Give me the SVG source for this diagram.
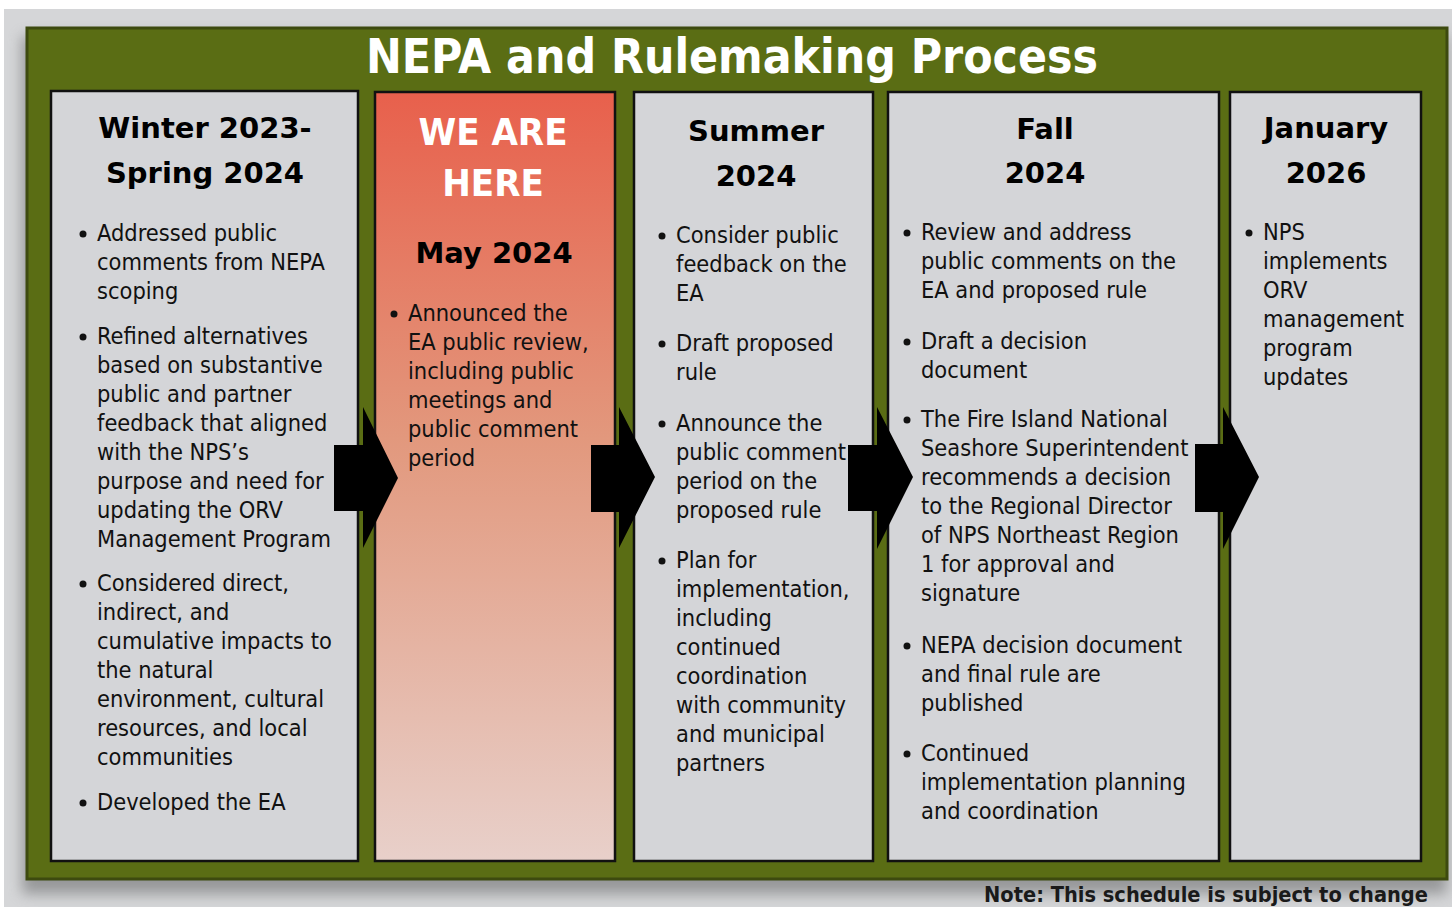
<svg xmlns="http://www.w3.org/2000/svg" width="1452" height="907" viewBox="0 0 1452 907">
<style>
.col{fill:#d4d5d8;stroke:#111;stroke-width:2.5}
.hd{font-family:"DejaVu Sans",Verdana,sans-serif;font-weight:bold;font-size:29px;fill:#000;text-anchor:middle}
.bd{font-family:"DejaVu Sans Condensed","DejaVu Sans",sans-serif;font-stretch:condensed;font-size:23.4px;fill:#111}
.bl{fill:#111}
.arrow{fill:#000}
</style>
<defs>
<linearGradient id="redg" x1="0" y1="0" x2="0" y2="1">
<stop offset="0" stop-color="#e8604c"/>
<stop offset="0.45" stop-color="#e2987d"/>
<stop offset="1" stop-color="#e8d0ca"/>
</linearGradient>
<filter id="sh" x="-5%" y="-5%" width="110%" height="115%">
<feGaussianBlur stdDeviation="7"/>
</filter>
</defs>
<rect x="0" y="0" width="1452" height="907" fill="#ffffff"/>
<rect x="4" y="9" width="1448" height="898" fill="#d5d6d8"/>
<rect x="22" y="36" width="1425" height="858" fill="#6d6e70" opacity="0.6" filter="url(#sh)"/>
<g id="frame">
<rect x="27" y="28" width="1420" height="851" fill="#5a6d14" stroke="#3d4a0f" stroke-width="3"/>
<text x="732" y="73" font-family="'DejaVu Sans Condensed','DejaVu Sans',sans-serif" font-stretch="condensed" font-weight="bold" font-size="47.5" fill="#fff" text-anchor="middle" textLength="732" lengthAdjust="spacingAndGlyphs">NEPA and Rulemaking Process</text>
</g>
<g id="col1">
<rect class="col" x="51" y="91" width="307" height="770"/>
<text class="hd" x="205" y="138">Winter 2023-</text>
<text class="hd" x="205" y="183">Spring 2024</text>
<circle class="bl" cx="83" cy="234" r="3.5"/>
<text class="bd" x="97" y="241">Addressed public</text>
<text class="bd" x="97" y="270">comments from NEPA</text>
<text class="bd" x="97" y="299">scoping</text>
<circle class="bl" cx="83" cy="337" r="3.5"/>
<text class="bd" x="97" y="344">Refined alternatives</text>
<text class="bd" x="97" y="373">based on substantive</text>
<text class="bd" x="97" y="402">public and partner</text>
<text class="bd" x="97" y="431">feedback that aligned</text>
<text class="bd" x="97" y="460">with the NPS’s</text>
<text class="bd" x="97" y="489">purpose and need for</text>
<text class="bd" x="97" y="518">updating the ORV</text>
<text class="bd" x="97" y="547">Management Program</text>
<circle class="bl" cx="83" cy="584" r="3.5"/>
<text class="bd" x="97" y="591">Considered direct,</text>
<text class="bd" x="97" y="620">indirect, and</text>
<text class="bd" x="97" y="649">cumulative impacts to</text>
<text class="bd" x="97" y="678">the natural</text>
<text class="bd" x="97" y="707">environment, cultural</text>
<text class="bd" x="97" y="736">resources, and local</text>
<text class="bd" x="97" y="765">communities</text>
<circle class="bl" cx="83" cy="803" r="3.5"/>
<text class="bd" x="97" y="810">Developed the EA</text>
</g>
<g id="col2">
<rect x="375" y="92" width="240" height="769" fill="url(#redg)" stroke="#111" stroke-width="2.5"/>
<text x="493" y="145" font-family="'DejaVu Sans Condensed','DejaVu Sans',sans-serif" font-stretch="condensed" font-weight="bold" font-size="38" fill="#fff" text-anchor="middle">WE ARE</text>
<text x="493" y="196" font-family="'DejaVu Sans Condensed','DejaVu Sans',sans-serif" font-stretch="condensed" font-weight="bold" font-size="38" fill="#fff" text-anchor="middle">HERE</text>
<text class="hd" x="494" y="263">May 2024</text>
<circle class="bl" cx="394" cy="314" r="3.5"/>
<text class="bd" x="408" y="321">Announced the</text>
<text class="bd" x="408" y="350">EA public review,</text>
<text class="bd" x="408" y="379">including public</text>
<text class="bd" x="408" y="408">meetings and</text>
<text class="bd" x="408" y="437">public comment</text>
<text class="bd" x="408" y="466">period</text>
</g>
<g id="col3">
<rect class="col" x="634" y="92" width="239" height="769"/>
<text class="hd" x="756" y="141">Summer</text>
<text class="hd" x="756" y="186">2024</text>
<circle class="bl" cx="662" cy="236" r="3.5"/>
<text class="bd" x="676" y="243">Consider public</text>
<text class="bd" x="676" y="272">feedback on the</text>
<text class="bd" x="676" y="301">EA</text>
<circle class="bl" cx="662" cy="344" r="3.5"/>
<text class="bd" x="676" y="351">Draft proposed</text>
<text class="bd" x="676" y="380">rule</text>
<circle class="bl" cx="662" cy="424" r="3.5"/>
<text class="bd" x="676" y="431">Announce the</text>
<text class="bd" x="676" y="460">public comment</text>
<text class="bd" x="676" y="489">period on the</text>
<text class="bd" x="676" y="518">proposed rule</text>
<circle class="bl" cx="662" cy="561" r="3.5"/>
<text class="bd" x="676" y="568">Plan for</text>
<text class="bd" x="676" y="597">implementation,</text>
<text class="bd" x="676" y="626">including</text>
<text class="bd" x="676" y="655">continued</text>
<text class="bd" x="676" y="684">coordination</text>
<text class="bd" x="676" y="713">with community</text>
<text class="bd" x="676" y="742">and municipal</text>
<text class="bd" x="676" y="771">partners</text>
</g>
<g id="col4">
<rect class="col" x="888" y="92" width="331" height="769"/>
<text class="hd" x="1045" y="139">Fall</text>
<text class="hd" x="1045" y="183">2024</text>
<circle class="bl" cx="907" cy="233" r="3.5"/>
<text class="bd" x="921" y="240">Review and address</text>
<text class="bd" x="921" y="269">public comments on the</text>
<text class="bd" x="921" y="298">EA and proposed rule</text>
<circle class="bl" cx="907" cy="342" r="3.5"/>
<text class="bd" x="921" y="349">Draft a decision</text>
<text class="bd" x="921" y="378">document</text>
<circle class="bl" cx="907" cy="420" r="3.5"/>
<text class="bd" x="921" y="427">The Fire Island National</text>
<text class="bd" x="921" y="456">Seashore Superintendent</text>
<text class="bd" x="921" y="485">recommends a decision</text>
<text class="bd" x="921" y="514">to the Regional Director</text>
<text class="bd" x="921" y="543">of NPS Northeast Region</text>
<text class="bd" x="921" y="572">1 for approval and</text>
<text class="bd" x="921" y="601">signature</text>
<circle class="bl" cx="907" cy="646" r="3.5"/>
<text class="bd" x="921" y="653">NEPA decision document</text>
<text class="bd" x="921" y="682">and final rule are</text>
<text class="bd" x="921" y="711">published</text>
<circle class="bl" cx="907" cy="754" r="3.5"/>
<text class="bd" x="921" y="761">Continued</text>
<text class="bd" x="921" y="790">implementation planning</text>
<text class="bd" x="921" y="819">and coordination</text>
</g>
<g id="col5">
<rect class="col" x="1230" y="92" width="191" height="769"/>
<text class="hd" x="1326" y="138">January</text>
<text class="hd" x="1326" y="183">2026</text>
<circle class="bl" cx="1249" cy="233" r="3.5"/>
<text class="bd" x="1263" y="240">NPS</text>
<text class="bd" x="1263" y="269">implements</text>
<text class="bd" x="1263" y="298">ORV</text>
<text class="bd" x="1263" y="327">management</text>
<text class="bd" x="1263" y="356">program</text>
<text class="bd" x="1263" y="385">updates</text>
</g>
<g id="connectors">
<polygon class="arrow" points="334,445 363,445 363,407 398,478 363,548 363,511 334,511"/>
<polygon class="arrow" points="591,445 619,445 619,407 655,477 619,548 619,512 591,512"/>
<polygon class="arrow" points="848,445 877,445 877,407 913,477 877,549 877,511 848,511"/>
<polygon class="arrow" points="1195,444 1223,444 1223,407 1259,477 1223,549 1223,512 1195,512"/>
</g>
<text x="984" y="902" font-family="'DejaVu Sans Condensed','DejaVu Sans',sans-serif" font-stretch="condensed" font-weight="bold" font-size="22" fill="#1a1a1a" textLength="444" lengthAdjust="spacingAndGlyphs">Note: This schedule is subject to change</text>
</svg>
